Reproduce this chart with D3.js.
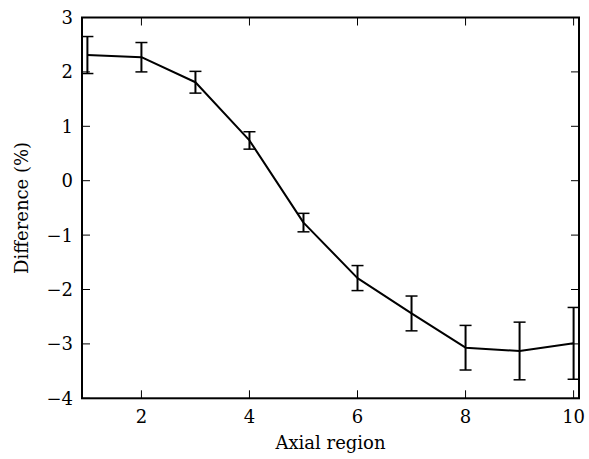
<!DOCTYPE html>
<html>
<head>
<meta charset="utf-8">
<script src="https://cdn.jsdelivr.net/npm/d3@7"></script>
<style>
html,body{margin:0;padding:0;background:#fff;}
svg{display:block;}
text{font-family:"DejaVu Serif",serif;fill:#000;}
</style>
</head>
<body>
<svg id="chart" width="589" height="459"></svg>
<script>
const regions = [1,2,3,4,5,6,7,8,9,10];
const difference = [2.31,2.27,1.81,0.74,-0.77,-1.79,-2.44,-3.07,-3.13,-2.99];
const errors = [0.34,0.27,0.20,0.16,0.17,0.23,0.32,0.41,0.53,0.66];
const xTicks = [2,4,6,8,10];
const yTicks = [-4,-3,-2,-1,0,1,2,3];

const W = 589, H = 459;
const m = {left:82, top:17.5, right:579, bottom:398.3};
const svg = d3.select("#chart");

const x = d3.scaleLinear().domain([0.9,10.1]).range([m.left,m.right]);
const y = d3.scaleLinear().domain([-4,3]).range([m.bottom,m.top]);
const fmt = d => (d<0 ? "\u2212"+Math.abs(d) : String(d));
const fs = 18;

// ticks (inside, all four sides)
const tl = 8;
const gx = svg.append("g");
xTicks.forEach(t=>{
  gx.append("line").attr("x1",x(t)).attr("x2",x(t)).attr("y1",m.bottom).attr("y2",m.bottom-tl).attr("stroke","#000").attr("stroke-width",1);
  gx.append("line").attr("x1",x(t)).attr("x2",x(t)).attr("y1",m.top).attr("y2",m.top+tl).attr("stroke","#000").attr("stroke-width",1);
  gx.append("text").attr("x",x(t)).attr("y",423).attr("text-anchor","middle").attr("font-size",fs).text(fmt(t));
});
const gy = svg.append("g");
yTicks.forEach(t=>{
  gy.append("line").attr("x1",m.left).attr("x2",m.left+tl).attr("y1",y(t)).attr("y2",y(t)).attr("stroke","#000").attr("stroke-width",1);
  gy.append("line").attr("x1",m.right).attr("x2",m.right-tl).attr("y1",y(t)).attr("y2",y(t)).attr("stroke","#000").attr("stroke-width",1);
  gy.append("text").attr("x",73).attr("y",y(t)).attr("dy","0.36em").attr("text-anchor","end").attr("font-size",fs).text(fmt(t));
});

// data line
const data = regions.map((r,i)=>({x:r,y:difference[i],e:errors[i]}));
svg.append("path").datum(data)
  .attr("d",d3.line().x(d=>x(d.x)).y(d=>y(d.y)))
  .attr("fill","none").attr("stroke","#000").attr("stroke-width",2).attr("stroke-linejoin","round");

// error bars
const eb = svg.append("g").attr("stroke","#000");
data.forEach(d=>{
  eb.append("line").attr("x1",x(d.x)).attr("x2",x(d.x)).attr("y1",y(d.y-d.e)).attr("y2",y(d.y+d.e)).attr("stroke-width",2);
  [d.y-d.e,d.y+d.e].forEach(v=>{
    eb.append("line").attr("x1",x(d.x)-6).attr("x2",x(d.x)+6).attr("y1",y(v)).attr("y2",y(v)).attr("stroke-width",1.5);
  });
});

// frame
svg.append("rect").attr("x",m.left).attr("y",m.top).attr("width",m.right-m.left).attr("height",m.bottom-m.top)
  .attr("fill","none").attr("stroke","#000").attr("stroke-width",2);

// labels
svg.append("text").attr("x",(m.left+m.right)/2).attr("y",449).attr("text-anchor","middle").attr("font-size",fs).text("Axial region");
svg.append("text").attr("transform",`translate(28,${(m.top+m.bottom)/2}) rotate(-90)`).attr("text-anchor","middle").attr("font-size",fs).text("Difference (%)");
</script>
</body>
</html>
